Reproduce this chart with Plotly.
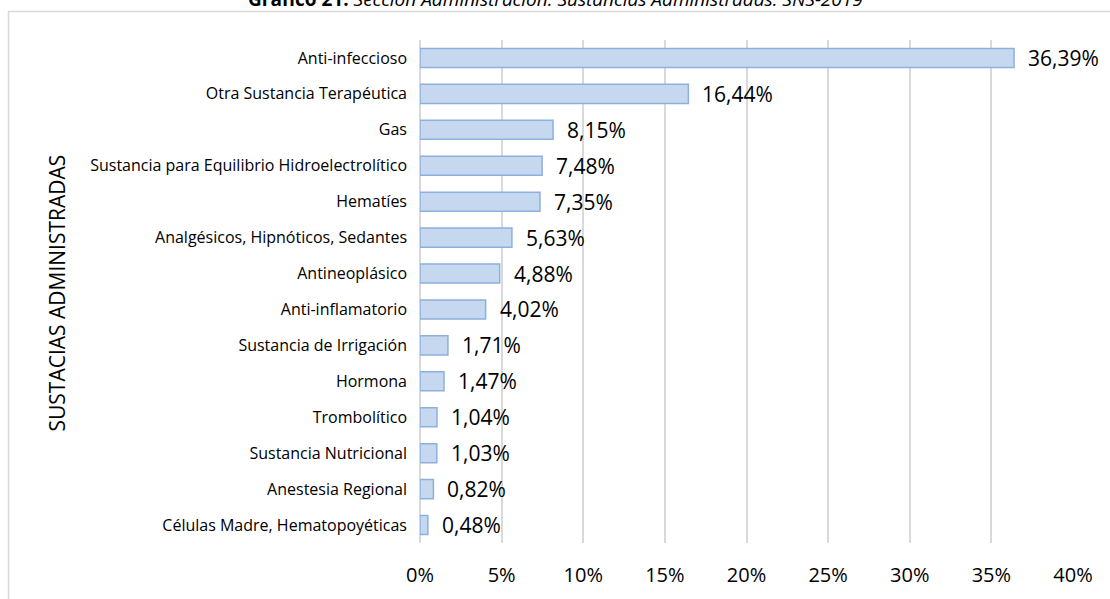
import plotly.graph_objects as go

categories = [
    "Anti-infeccioso",
    "Otra Sustancia Terapéutica",
    "Gas",
    "Sustancia para Equilibrio Hidroelectrolítico",
    "Hematíes",
    "Analgésicos, Hipnóticos, Sedantes",
    "Antineoplásico",
    "Anti-inflamatorio",
    "Sustancia de Irrigación",
    "Hormona",
    "Trombolítico",
    "Sustancia Nutricional",
    "Anestesia Regional",
    "Células Madre, Hematopoyéticas",
]
values = [36.39, 16.44, 8.15, 7.48, 7.35, 5.63, 4.88, 4.02, 1.71, 1.47, 1.04, 1.03, 0.82, 0.48]
tick_vals = [0, 0.05, 0.10, 0.15, 0.20, 0.25, 0.30, 0.35, 0.40]
tick_text = ["0%", "5%", "10%", "15%", "20%", "25%", "30%", "35%", "40%"]

fractions = [v / 100 for v in values]
labels = [f"{v:.2f}".replace(".", ",") + "%" for v in values]

FONT = "Open Sans"

fig = go.Figure()
fig.add_trace(go.Bar(
    x=fractions, y=categories, orientation="h",
    marker=dict(color="#c6d8ef", line=dict(color="#8eb0dc", width=1.5)),
    hoverinfo="skip",
))

annotations = []
for f, c, t in zip(fractions, categories, labels):
    annotations.append(dict(
        x=f, y=c, xref="x", yref="y", text=t, showarrow=False,
        xanchor="left", yanchor="middle", xshift=12,
        font=dict(family=FONT, size=21, color="#000000"),
    ))

annotations.append(dict(
    x=(555 - 420) / 653, y=(543 + 1) / 503, xref="paper", yref="paper",
    text="<b>Gráfico 21.</b> <i>Sección Administración: Sustancias Administradas. SNS-2019</i>",
    showarrow=False, xanchor="center", yanchor="middle",
    font=dict(family=FONT, size=19, color="#000000"),
))
annotations.append(dict(
    x=(56.5 - 420) / 653, y=(543 - 293) / 503, xref="paper", yref="paper",
    text="SUSTACIAS ADMINISTRADAS", textangle=-90, showarrow=False,
    xanchor="center", yanchor="middle",
    font=dict(family=FONT, size=21, color="#000000"),
))

fig.update_layout(
    width=1110, height=599,
    margin=dict(l=420, r=37, t=40, b=56),
    paper_bgcolor="white", plot_bgcolor="white",
    bargap=0.47,
    showlegend=False,
    annotations=annotations,
    shapes=[dict(
        type="rect", xref="paper", yref="paper",
        x0=(8.5 - 420) / 653, x1=(1200 - 420) / 653,
        y0=(543 - 700) / 503, y1=(543 - 11.5) / 503,
        line=dict(color="#d9d9d9", width=1.5), fillcolor="rgba(0,0,0,0)",
        layer="below",
    )],
)
fig.update_xaxes(
    range=[0, 0.4], tickvals=tick_vals, ticktext=tick_text,
    showgrid=True, gridcolor="#d9d9d9", gridwidth=1.5,
    zeroline=True, zerolinecolor="#d9d9d9", zerolinewidth=1.5,
    showline=False, ticks="", ticklabelstandoff=18,
    tickfont=dict(family=FONT, size=20, color="#000000"),
)
fig.update_yaxes(
    autorange="reversed", showgrid=False, showline=False, ticks="",
    ticklabelstandoff=12,
    tickfont=dict(family=FONT, size=16, color="#000000"),
)

fig.write_html(
    "out.html",
    config={"displayModeBar": False},
    post_script="document.body.style.margin='0';document.body.style.overflow='hidden';",
)
